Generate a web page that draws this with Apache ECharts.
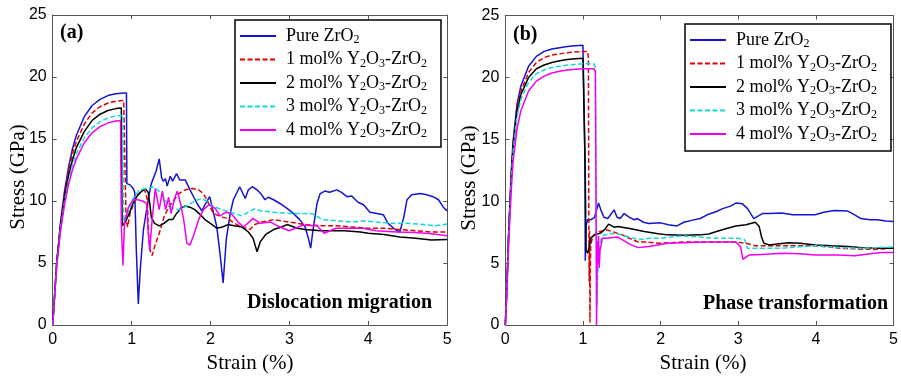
<!DOCTYPE html>
<html><head><meta charset="utf-8">
<script src="https://cdn.jsdelivr.net/npm/echarts@6/dist/echarts.min.js"></script>
<style>html,body{margin:0;padding:0;background:#fff}#c{width:901px;height:377px}</style>
</head><body><div id="c"></div>
<script>
// ---------- data ----------
const seriesNames = ['Pure ZrO2', '1 mol% Y2O3-ZrO2', '2 mol% Y2O3-ZrO2', '3 mol% Y2O3-ZrO2', '4 mol% Y2O3-ZrO2'];
const xTicks = [0, 1, 2, 3, 4, 5];
const yTicks = [0, 5, 10, 15, 20, 25];
const panelLabels = ['(a)', '(b)'];
const panelNotes = ['Dislocation migration', 'Phase transformation'];

// Panel (a): dislocation migration  [strain %, stress GPa]
const aPure = [[0,0],[0.02,2],[0.05,5],[0.1,8.3],[0.15,10.8],[0.2,12.7],[0.25,14.2],[0.3,15.3],[0.4,16.8],[0.5,17.7],[0.6,18.2],[0.7,18.5],[0.8,18.65],[0.9,18.7],[0.935,18.7],[0.94,11.4],[0.98,11.3],[1.02,11.0],[1.04,10.7],[1.06,6.0],[1.085,1.7],[1.11,4.5],[1.15,7.7],[1.21,10.1],[1.25,11.4],[1.31,12.4],[1.35,13.4],[1.38,11.9],[1.40,11.6],[1.43,11.8],[1.45,11.2],[1.49,12.0],[1.52,11.6],[1.57,12.2],[1.61,11.7],[1.68,11.7],[1.74,10.9],[1.83,9.8],[1.89,9.2],[1.93,9.7],[1.99,10.35],[2.04,9.0],[2.08,7.9],[2.12,5.8],[2.16,3.4],[2.2,6.9],[2.25,9.0],[2.29,10.1],[2.37,11.15],[2.40,10.75],[2.44,10.2],[2.48,10.9],[2.53,11.15],[2.59,10.9],[2.65,10.5],[2.69,10.1],[2.73,10.3],[2.8,10.1],[2.88,9.8],[2.97,9.4],[3.05,9.0],[3.13,8.5],[3.2,7.9],[3.24,7.0],[3.27,6.2],[3.3,7.7],[3.35,9.8],[3.39,10.6],[3.45,10.8],[3.51,10.7],[3.6,10.9],[3.66,10.7],[3.73,10.35],[3.79,10.4],[3.87,9.9],[3.94,9.7],[4.02,9.1],[4.11,9.0],[4.19,8.9],[4.25,8.2],[4.34,7.7],[4.4,7.5],[4.45,8.7],[4.49,10.1],[4.55,10.5],[4.66,10.6],[4.74,10.5],[4.82,10.35],[4.89,10.1],[4.95,9.5],[5.0,9.2]];
const aY1 = [[0,0],[0.05,5],[0.1,8.2],[0.15,10.6],[0.2,12.4],[0.25,13.8],[0.3,14.8],[0.4,16.2],[0.5,17.1],[0.6,17.6],[0.7,17.9],[0.8,18.05],[0.9,18.1],[0.92,18.1],[0.93,8.5],[0.95,7.9],[0.98,9.0],[1.02,9.7],[1.08,10.5],[1.14,10.9],[1.17,10.8],[1.2,10.1],[1.21,8.0],[1.23,6.1],[1.26,5.6],[1.29,6.3],[1.35,7.4],[1.41,8.7],[1.47,9.5],[1.54,10.1],[1.6,10.6],[1.68,10.9],[1.77,11.0],[1.85,10.9],[1.91,10.6],[1.96,10.0],[2.02,9.2],[2.07,8.9],[2.15,8.7],[2.22,8.6],[2.3,8.2],[2.4,7.9],[2.5,7.7],[2.56,8.1],[2.65,8.3],[2.8,8.5],[3.0,8.3],[3.2,8.1],[3.4,8.0],[3.6,8.0],[3.8,7.9],[4.0,7.8],[4.2,7.8],[4.4,7.7],[4.6,7.6],[4.8,7.5],[5.0,7.5]];
const aY2 = [[0,0],[0.05,4.9],[0.1,8.0],[0.15,10.3],[0.2,12.0],[0.25,13.3],[0.3,14.3],[0.4,15.6],[0.5,16.5],[0.6,17.0],[0.7,17.3],[0.8,17.45],[0.87,17.5],[0.88,8.0],[0.92,8.3],[0.97,9.0],[1.01,9.7],[1.07,10.4],[1.13,10.8],[1.17,11.0],[1.21,10.7],[1.23,9.8],[1.25,8.7],[1.29,8.2],[1.35,8.0],[1.41,8.2],[1.47,8.5],[1.52,8.5],[1.56,8.9],[1.62,9.4],[1.68,9.6],[1.74,9.5],[1.8,9.3],[1.87,8.9],[1.93,8.5],[2.02,8.1],[2.08,7.8],[2.15,7.9],[2.22,8.1],[2.3,8.0],[2.4,7.9],[2.48,7.5],[2.54,7.0],[2.59,5.9],[2.63,6.7],[2.7,7.3],[2.8,7.7],[2.9,7.9],[2.97,8.1],[3.1,7.8],[3.2,7.7],[3.4,7.6],[3.6,7.6],[3.7,7.6],[3.9,7.5],[4.0,7.4],[4.2,7.3],[4.4,7.1],[4.6,7.0],[4.8,6.85],[5.0,6.9]];
const aY3 = [[0,0],[0.05,4.8],[0.1,7.8],[0.15,10.0],[0.2,11.6],[0.25,12.9],[0.3,13.8],[0.4,15.1],[0.5,15.9],[0.6,16.4],[0.7,16.7],[0.8,16.85],[0.89,16.9],[0.9,8.3],[0.93,8.8],[0.97,9.3],[1.02,10.2],[1.1,10.9],[1.18,11.0],[1.27,11.1],[1.33,10.9],[1.4,10.4],[1.46,9.7],[1.52,9.4],[1.6,9.3],[1.7,9.6],[1.8,10.0],[1.88,10.2],[1.95,10.0],[2.03,9.6],[2.1,9.4],[2.2,9.2],[2.3,9.0],[2.4,8.8],[2.48,9.1],[2.55,9.35],[2.65,9.2],[2.8,9.1],[3.0,9.0],[3.2,9.0],[3.3,8.95],[3.42,8.5],[3.6,8.4],[3.8,8.3],[3.95,8.4],[4.1,8.3],[4.3,8.2],[4.5,8.2],[4.7,8.1],[4.85,8.0],[5.0,8.15]];
const aY4 = [[0,0],[0.05,4.7],[0.1,7.6],[0.15,9.7],[0.2,11.3],[0.25,12.5],[0.3,13.4],[0.4,14.7],[0.5,15.5],[0.6,16.0],[0.7,16.3],[0.8,16.45],[0.86,16.5],[0.87,8.0],[0.89,4.8],[0.91,8.2],[0.96,9.5],[1.02,10.1],[1.08,10.1],[1.14,10.0],[1.19,9.8],[1.21,7.5],[1.23,6.0],[1.26,8.5],[1.3,11.0],[1.32,10.9],[1.35,9.3],[1.39,10.8],[1.43,9.3],[1.47,10.3],[1.5,9.0],[1.55,10.3],[1.58,10.8],[1.62,9.8],[1.66,8.5],[1.7,6.6],[1.74,6.45],[1.79,7.3],[1.85,8.5],[1.91,9.3],[1.98,9.7],[2.06,9.4],[2.12,8.8],[2.2,9.1],[2.26,9.0],[2.35,8.3],[2.42,7.9],[2.54,8.6],[2.63,8.2],[2.76,8.3],[2.88,7.9],[3.0,7.6],[3.17,8.05],[3.35,8.0],[3.44,7.4],[3.59,7.8],[3.75,7.8],[3.93,7.8],[4.1,7.6],[4.36,7.5],[4.6,7.45],[4.8,7.35],[5.0,7.2]];

// Panel (b): phase transformation  [strain %, stress GPa]
const bPure = [[0,0],[0.02,3],[0.04,7],[0.06,10],[0.08,12.8],[0.1,14.8],[0.15,17.8],[0.2,19.3],[0.3,20.9],[0.4,21.7],[0.5,22.1],[0.6,22.3],[0.7,22.4],[0.8,22.5],[0.9,22.55],[1.0,22.6],[1.02,22.5],[1.025,14],[1.03,5.2],[1.04,8.0],[1.06,8.5],[1.1,8.5],[1.15,8.7],[1.2,9.85],[1.23,9.3],[1.27,8.7],[1.32,8.6],[1.4,9.3],[1.44,8.7],[1.48,8.6],[1.53,9.0],[1.6,8.7],[1.66,8.5],[1.7,8.6],[1.78,8.3],[1.85,8.2],[2.0,8.25],[2.1,8.1],[2.21,8.0],[2.3,8.3],[2.4,8.45],[2.51,8.6],[2.6,8.9],[2.72,9.17],[2.8,9.4],[2.9,9.6],[2.97,9.85],[3.05,9.8],[3.12,9.4],[3.2,8.6],[3.31,9.0],[3.4,9.0],[3.56,9.05],[3.7,8.9],[3.85,8.9],[3.99,8.9],[4.1,9.1],[4.24,9.25],[4.41,9.2],[4.5,8.9],[4.58,8.6],[4.7,8.5],[4.79,8.5],[4.9,8.4],[5.0,8.36]];
const bY1 = [[0,0],[0.02,3],[0.04,6.8],[0.06,9.8],[0.08,12.5],[0.1,14.6],[0.15,17.5],[0.2,18.9],[0.3,20.4],[0.4,21.2],[0.5,21.6],[0.6,21.8],[0.7,21.9],[0.8,22.0],[0.9,22.05],[1.0,22.1],[1.06,22.1],[1.07,21.6],[1.075,10],[1.08,3.5],[1.085,7.6],[1.09,0.2],[1.095,4.5],[1.1,6.5],[1.13,7.2],[1.2,7.5],[1.3,7.7],[1.4,7.5],[1.5,7.3],[1.6,7.0],[1.71,6.7],[1.8,6.7],[2.0,6.6],[2.27,6.7],[2.5,6.7],[2.8,6.7],[2.97,6.7],[3.1,6.6],[3.22,6.4],[3.5,6.4],[3.8,6.4],[3.99,6.4],[4.3,6.2],[4.5,6.15],[4.75,6.1],[5.0,6.2]];
const bY2 = [[0,0],[0.02,3],[0.04,6.8],[0.06,9.7],[0.08,12.3],[0.1,14.4],[0.15,17.2],[0.2,18.6],[0.3,20.0],[0.4,20.7],[0.5,21.0],[0.6,21.2],[0.7,21.35],[0.8,21.45],[0.9,21.5],[1.0,21.55],[1.02,21.5],[1.03,12],[1.04,6.0],[1.06,5.8],[1.08,6.3],[1.1,7.0],[1.15,7.3],[1.22,7.4],[1.28,7.7],[1.33,8.15],[1.4,7.9],[1.45,7.95],[1.6,7.8],[1.79,7.55],[1.95,7.4],[2.09,7.28],[2.3,7.25],[2.51,7.28],[2.62,7.35],[2.72,7.55],[2.85,7.8],[2.97,8.0],[3.1,8.1],[3.22,8.3],[3.27,7.95],[3.3,7.1],[3.33,6.6],[3.4,6.47],[3.5,6.55],[3.65,6.65],[3.8,6.6],[3.99,6.47],[4.2,6.4],[4.41,6.35],[4.6,6.25],[4.8,6.2],[5.0,6.2]];
const bY3 = [[0,0],[0.02,2.8],[0.04,6.5],[0.06,9.5],[0.08,12.0],[0.1,14.0],[0.15,16.8],[0.2,18.2],[0.3,19.6],[0.4,20.3],[0.5,20.6],[0.6,20.8],[0.7,20.9],[0.8,21.0],[0.9,21.05],[1.0,21.1],[1.14,21.1],[1.16,20.8],[1.17,10],[1.18,1.5],[1.19,4.0],[1.21,6.5],[1.25,7.2],[1.35,7.4],[1.45,7.35],[1.6,7.1],[1.71,6.9],[1.85,7.0],[2.0,7.0],[2.27,7.2],[2.5,7.1],[2.72,7.0],[2.9,7.0],[3.0,7.0],[3.08,6.9],[3.12,6.2],[3.3,6.2],[3.56,6.2],[3.75,6.3],[3.99,6.4],[4.2,6.3],[4.41,6.2],[4.6,6.2],[4.8,6.25],[5.0,6.3]];
const bY4 = [[0,0],[0.02,2.5],[0.04,6.0],[0.06,8.8],[0.08,11.2],[0.1,13.2],[0.15,15.8],[0.2,17.3],[0.3,18.9],[0.4,19.7],[0.5,20.1],[0.6,20.35],[0.7,20.5],[0.8,20.6],[0.9,20.65],[1.0,20.7],[1.14,20.7],[1.16,20.5],[1.17,8],[1.175,0],[1.185,6.8],[1.195,5.0],[1.2,7.2],[1.21,4.6],[1.22,6.0],[1.25,7.0],[1.3,7.0],[1.45,7.1],[1.62,6.47],[1.71,6.25],[1.85,6.35],[2.09,6.6],[2.3,6.65],[2.6,6.7],[2.97,6.7],[3.03,6.3],[3.06,5.3],[3.14,5.66],[3.3,5.7],[3.56,5.8],[3.8,5.75],[3.99,5.66],[4.3,5.65],[4.5,5.6],[4.7,5.75],[4.84,5.85],[5.0,5.85]];

const panelA = [aPure, aY1, aY2, aY3, aY4];
const panelB = [bPure, bY1, bY2, bY3, bY4];

// ---------- style ----------
const colors = ['#1515d0', '#e00000', '#000000', '#10dada', '#f000f0'];
const dashed = [false, true, false, true, false];
const AXIS_C = '#555';
const SERIF = '"Liberation Serif", "Times New Roman", serif';
const SANS = '"Liberation Sans", Arial, sans-serif';

function xAx(gi, pos, showLabels) {
  return {
    type: 'value', gridIndex: gi, position: pos, min: xTicks[0], max: xTicks[xTicks.length - 1], interval: 1,
    axisLine: { show: true, onZero: false, lineStyle: { color: AXIS_C, width: 1 } },
    axisTick: { show: true, inside: true, length: 4, lineStyle: { color: AXIS_C } },
    axisLabel: { show: showLabels, color: '#000', fontFamily: SANS, fontSize: 16, margin: 7 },
    splitLine: { show: false }
  };
}
function yAx(gi, pos, showLabels) {
  return {
    type: 'value', gridIndex: gi, position: pos, min: yTicks[0], max: yTicks[yTicks.length - 1], interval: 5,
    axisLine: { show: true, onZero: false, lineStyle: { color: AXIS_C, width: 1 } },
    axisTick: { show: true, inside: true, length: 4, lineStyle: { color: AXIS_C } },
    axisLabel: { show: showLabels, color: '#000', fontFamily: SANS, fontSize: 16, margin: 6 },
    splitLine: { show: false }
  };
}
function fmt(name) {
  return '{t|' + name.replace(/([A-Za-z])(\d)/g, '$1}{s|$2}{t|') + '}';
}
function legendFor(left, top) {
  return {
    data: seriesNames, orient: 'vertical', left: left, top: top,
    padding: [7, 14, 7, 4], itemWidth: 36, itemHeight: 14, itemGap: 4.5,
    borderColor: '#000', borderWidth: 1.5, backgroundColor: '#fff',
    selectedMode: false, formatter: fmt,
    itemStyle: { opacity: 0 },
    textStyle: {
      padding: [0, 0, 0, 5], fontFamily: SERIF, fontSize: 18, color: '#000',
      rich: {
        t: { fontFamily: SERIF, fontSize: 18, lineHeight: 20, color: '#000' },
        s: { fontFamily: SERIF, fontSize: 12, lineHeight: 9, verticalAlign: 'bottom', color: '#000' }
      }
    }
  };
}
function mkSeries(list, axIdx) {
  return list.map((d, i) => ({
    type: 'line', name: seriesNames[i], xAxisIndex: axIdx, yAxisIndex: axIdx, data: d,
    symbol: 'none', showSymbol: false, animation: false, z: 2 + i,
    lineStyle: { color: colors[i], width: 1.5, type: dashed[i] ? [5, 2.5] : 'solid' },
    itemStyle: { color: colors[i] }
  }));
}
function txt(x, y, text, font, align, rot) {
  return { type: 'text', x: x, y: y, rotation: rot || 0, z: 100,
    style: { text: text, font: font, fill: '#000', align: align, verticalAlign: 'middle', textAlign: align, textVerticalAlign: 'middle' } };
}

const chart = echarts.init(document.getElementById('c'), null, { renderer: 'canvas' });
chart.setOption({
  backgroundColor: '#fff',
  animation: false,
  grid: [
    { left: 52.7, top: 15, width: 394.5, height: 310 },
    { left: 505.3, top: 15.5, width: 394.7, height: 309.5 }
  ],
  xAxis: [xAx(0, 'bottom', true), xAx(0, 'top', false), xAx(1, 'bottom', true), xAx(1, 'top', false)],
  yAxis: [yAx(0, 'left', true), yAx(0, 'right', false), yAx(1, 'left', true), yAx(1, 'right', false)],
  legend: [legendFor(235, 20), legendFor(685, 24)],
  series: mkSeries(panelA, 0).concat(mkSeries(panelB, 2)),
  graphic: [
    txt(60, 33, panelLabels[0], 'bold 20px ' + SERIF, 'left'),
    txt(513, 35, panelLabels[1], 'bold 20px ' + SERIF, 'left'),
    txt(432, 303, panelNotes[0], 'bold 20px ' + SERIF, 'right'),
    txt(888, 304, panelNotes[1], 'bold 20px ' + SERIF, 'right'),
    txt(250, 363, 'Strain (%)', '21px ' + SERIF, 'center'),
    txt(703, 363, 'Strain (%)', '21px ' + SERIF, 'center'),
    txt(18, 177, 'Stress (GPa)', '21px ' + SERIF, 'center', Math.PI / 2),
    txt(469, 178, 'Stress (GPa)', '21px ' + SERIF, 'center', Math.PI / 2)
  ]
});
</script>
</body></html>
